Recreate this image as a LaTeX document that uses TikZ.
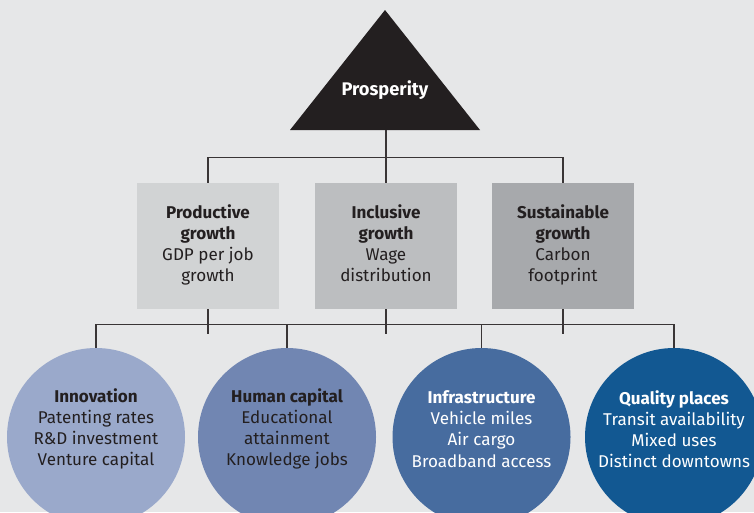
\documentclass[tikz,border=0pt]{standalone}
\usepackage{fontspec}
\setmainfont{Fira Sans}
\usetikzlibrary{positioning}

\definecolor{paper}{HTML}{E6E7E8}
\definecolor{ink}{HTML}{231F20}
\definecolor{greyA}{HTML}{D1D3D4}
\definecolor{greyB}{HTML}{BCBEC0}
\definecolor{greyC}{HTML}{A7A9AC}
\definecolor{blueA}{HTML}{9AA9CB}
\definecolor{blueB}{HTML}{7186B2}
\definecolor{blueC}{HTML}{476C9F}
\definecolor{blueD}{HTML}{125892}

\begin{document}
\begin{tikzpicture}[
        goal/.style={draw=none, minimum width=2.84cm, minimum height=2.52cm,
                     align=center, text=ink,
                     font=\fontsize{9.7}{12}\selectfont},
        pillar/.style={circle, draw=none, minimum size=3.56cm, inner sep=0pt},
        pillartext/.style={align=center, font=\fontsize{9.7}{12}\selectfont},
        link/.style={draw=ink!90, line width=0.7pt}
      ]
        \clip (0,0) rectangle (15.08,-10.24);
        \fill[paper] (0,0) rectangle (15.08,-10.24);

        % top of the pyramid
        \fill[ink] (7.70,-0.20) -- (9.60,-2.60) -- (5.80,-2.60) -- cycle;
        \node[text=white, font=\fontsize{10.4}{12}\selectfont\bfseries]
          (prosperity) at (7.70,-1.80) {Prosperity};
        \coordinate (apexbase) at (7.72,-2.60);

        % three kinds of growth
        \node[goal, fill=greyA] (prod) at (4.16,-4.92)
          {\strut\textbf{Productive}\\\textbf{growth}\\GDP per job\\growth\strut};
        \node[goal, fill=greyB] (incl) at (7.72,-4.92)
          {\strut\textbf{Inclusive}\\\textbf{growth}\\Wage\\distribution\strut};
        \node[goal, fill=greyC] (sust) at (11.26,-4.92)
          {\strut\textbf{Sustainable}\\\textbf{growth}\\Carbon\\footprint\strut};

        % four drivers
        \node[pillar, fill=blueA] (inno) at (1.92,-8.74) {};
        \node[pillar, fill=blueB] (human) at (5.74,-8.74) {};
        \node[pillar, fill=blueC] (infra) at (9.63,-8.74) {};
        \node[pillar, fill=blueD] (places) at (13.48,-8.74) {};

        \node[pillartext, text=ink] at ([yshift=0.16cm]inno.center)
          {\textbf{Innovation}\\Patenting rates\\R\&D investment\\Venture capital};
        \node[pillartext, text=ink] at ([yshift=0.16cm]human.center)
          {\textbf{Human capital}\\Educational\\attainment\\Knowledge jobs};
        \node[pillartext, text=white] at ([yshift=0.16cm]infra.center)
          {\textbf{Infrastructure}\\Vehicle miles\\Air cargo\\Broadband access};
        \node[pillartext, text=white] at ([yshift=0.16cm]places.center)
          {\textbf{Quality places}\\Transit availability\\Mixed uses\\Distinct downtowns};

        % tree lines
        \draw[link] (apexbase) -- (incl.north);
        \draw[link] (prod.north) -- ++(0,0.51) -| (sust.north);
        \draw[link] (prod.south) -- ++(0,-0.50);
        \draw[link] (incl.south) -- ++(0,-0.50);
        \draw[link] (sust.south) -- ++(0,-0.50);
        \draw[link] (inno.north) -- ++(0,0.47) -| (places.north);
        \draw[link] (human.north) -- ++(0,0.47);
        \draw[link] (infra.north) -- ++(0,0.47);
      \end{tikzpicture}
\end{document}
